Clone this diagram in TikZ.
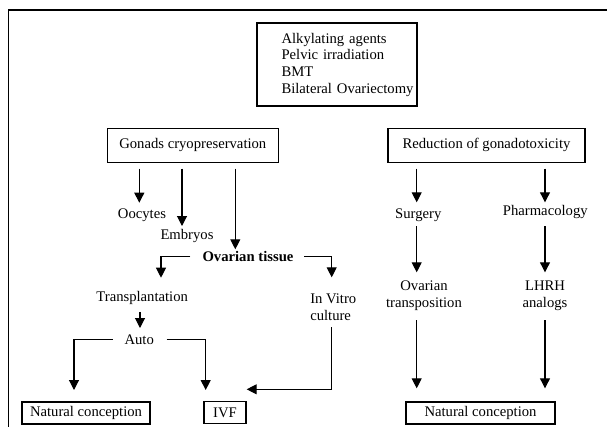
\documentclass[tikz,border=0pt]{standalone}
\usepackage{fontspec}
\setmainfont{Liberation Serif}
\usetikzlibrary{arrows.meta}
\begin{document}
\begin{tikzpicture}[x=0.75pt,y=-0.75pt,
  font=\fontsize{11}{12.2}\selectfont,
  box/.style={draw, line width=0.8pt, inner sep=0pt, align=center},
  txt/.style={inner sep=0pt, align=center},
  arr/.style={line width=0.8pt, -{Triangle[width=7.5pt,length=7.5pt]}}]
\useasboundingbox (0,0) rectangle (607,426);
\clip (0,0) rectangle (607,426);
% outer frame (right and bottom edges fall outside the picture)
\draw[line width=1pt] (8.5,450) -- (8.5,10) -- (620,10);

% nodes
\node[box, text width=83.2pt, inner xsep=18.4pt, inner ysep=0pt, minimum height=62.25pt, align=left,
      font=\fontsize{11}{12.5}\selectfont] (causes) at (337,64.5)
  {\mbox{Alkylating agents}\\\mbox{Pelvic irradiation}\\BMT\\\mbox{Bilateral Ovariectomy}};
\node[box, minimum width=128.6pt, minimum height=26pt] (gonads) at (192.8,145.4) {Gonads cryopreservation};
\node[box, minimum width=147.75pt, minimum height=26pt] (reduction) at (486.5,145.4) {Reduction of gonadotoxicity};
\node[txt] (oocytes) at (142,215) {Oocytes};
\node[txt] (embryos) at (187,235.7) {Embryos};
\node[txt, font=\fontsize{11}{12.2}\selectfont\bfseries] (tissue) at (248,256.5) {Ovarian tissue};
\node[txt] (transpl) at (142.2,298.3) {Transplantation};
\node[txt, align=left, anchor=west] (vitro) at (310,307.3) {In Vitro\\culture};
\node[txt] (auto) at (139.2,339.5) {Auto};
\node[box, minimum width=96pt, minimum height=16.5pt] (nc1) at (86,413) {Natural conception};
\node[box, minimum width=31.5pt, minimum height=16.5pt] (ivf) at (225,412.5) {IVF};
\node[txt] (surgery) at (418.3,215) {Surgery};
\node[txt] (pharma) at (545.3,211.7) {Pharmacology};
\node[txt] (otrans) at (424,295.7) {Ovarian\\transposition};
\node[txt] (lhrh) at (545,295.7) {LHRH\\analogs};
\node[box, minimum width=111.75pt, minimum height=16.5pt] (nc2) at (480.5,413) {Natural conception};

% arrow end points
\coordinate (a1) at (139.3,202.7);
\coordinate (a2) at (182,226);
\coordinate (a3) at (235.3,249.3);
\coordinate (tl) at (161,277.7);
\coordinate (tr) at (331.7,277.3);
\coordinate (ta) at (140,328);
\coordinate (an) at (74,390);
\coordinate (ai) at (205.7,390);
\coordinate (iv) at (246.7,389.3);
\coordinate (s1) at (416.7,202.3);
\coordinate (p1) at (545,202.3);
\coordinate (s2) at (416.7,272.3);
\coordinate (p2) at (545,272.3);
\coordinate (o3) at (416.7,388.3);
\coordinate (l3) at (545,388.3);

% connectors
\draw[arr, shorten <=4pt] (gonads.south -| a1) -- (a1);
\draw[arr, shorten <=4pt] (gonads.south -| a2) -- (a2);
\draw[arr, shorten <=4pt] (gonads.south -| a3) -- (a3);
\draw[arr, shorten <=9pt] (tissue.west) -| (tl);
\draw[arr, shorten <=8pt] (tissue.east) -| (tr);
\draw[arr, shorten <=5pt] (transpl.south -| ta) -- (ta);
\draw[arr, shorten <=8.8pt] (auto.west) -| (an);
\draw[arr, shorten <=9.3pt] (auto.east) -| (ai);
\draw[arr, shorten <=4.8pt] (vitro.south -| tr) |- (iv);
\draw[arr, shorten <=4pt] (reduction.south -| s1) -- (s1);
\draw[arr, shorten <=4pt] (reduction.south -| p1) -- (p1);
\draw[arr, shorten <=3.4pt] (surgery.south -| s2) -- (s2);
\draw[arr, shorten <=5.8pt] (pharma.south -| p2) -- (p2);
\draw[arr, shorten <=7.2pt] (otrans.south -| o3) -- (o3);
\draw[arr, shorten <=7.2pt] (lhrh.south -| l3) -- (l3);
\end{tikzpicture}
\end{document}
